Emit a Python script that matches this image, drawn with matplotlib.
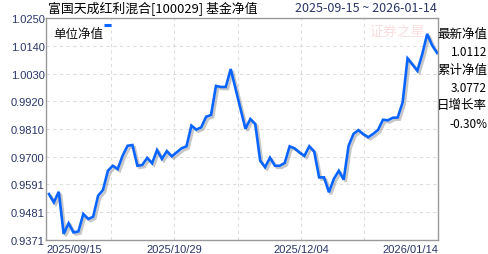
import numpy as np
import matplotlib
matplotlib.use('Agg')
import matplotlib.pyplot as plt
import matplotlib.patheffects as pe

plt.rcParams['font.family'] = ['Noto Sans CJK SC', 'DejaVu Sans']

# unit NAV, one value per trading day 2025-09-15 .. 2026-01-14
nav = [0.9553, 0.9520, 0.9562, 0.9395, 0.9437, 0.9401, 0.9405, 0.9474, 0.9454, 0.9463,
       0.9546, 0.9569, 0.9645, 0.9665, 0.9652, 0.9705, 0.9744, 0.9747, 0.9665, 0.9668,
       0.9696, 0.9675, 0.9727, 0.9692, 0.9723, 0.9702, 0.9718, 0.9734, 0.9742, 0.9824,
       0.9808, 0.9817, 0.9859, 0.9866, 0.9981, 0.9977, 0.9977, 1.0048, 0.9969, 0.9890,
       0.9811, 0.9850, 0.9830, 0.9685, 0.9659, 0.9697, 0.9665, 0.9665, 0.9676, 0.9742,
       0.9734, 0.9718, 0.9704, 0.9742, 0.9721, 0.9619, 0.9619, 0.9560, 0.9613, 0.9645,
       0.9610, 0.9744, 0.9791, 0.9806, 0.9790, 0.9778, 0.9791, 0.9807, 0.9847, 0.9845,
       0.9855, 0.9856, 0.9916, 1.0090, 1.0066, 1.0041, 1.0107, 1.0187, 1.0142, 1.0112]

y_ticks = [0.9371, 0.9481, 0.9591, 0.9700, 0.9810, 0.9920, 1.0030, 1.0140, 1.0250]
x_labels = ['2025/09/15', '2025/10/29', '2025/12/04', '2026/01/14']

title = '富国天成红利混合[100029] 基金净值'
date_range = '2025-09-15 ~ 2026-01-14'
side_info = [('最新净值', '1.0112'), ('累计净值', '3.0772'), ('日增长率', '-0.30%')]

navy = '#2a3566'
blue = '#0a64ff'

fig = plt.figure(figsize=(4.88, 2.55), dpi=100)
ax = fig.add_axes([46 / 488, 14 / 255, 392 / 488, 222 / 255])

x = np.arange(len(nav))
ax.plot(x, nav, color=blue, lw=1.9, solid_joinstyle='miter',
        path_effects=[pe.SimpleLineShadow(offset=(1.5, -1.5), shadow_color='#999999', alpha=0.55),
                      pe.Normal()])

xmin, xmax = -0.6, 79.2
ax.set_xlim(xmin, xmax)
ax.set_ylim(y_ticks[0], y_ticks[-1])

ax.set_yticks(y_ticks)
ax.set_yticklabels(['%.4f' % v for v in y_ticks], fontsize=8, color=navy,
                   family=['Liberation Sans', 'DejaVu Sans'])

grid_x = [12.6, 25.5, 38.4, 51.3, 64.2]
ax.set_xticks([xmin, grid_x[1], grid_x[3], xmax])
ax.set_xticklabels(x_labels, fontsize=8, color=navy, family=['Liberation Sans', 'DejaVu Sans'])
tl = ax.get_xticklabels()
tl[0].set_ha('left')
tl[-1].set_ha('right')
ax.tick_params(axis='both', length=0)
ax.tick_params(axis='x', pad=3)
ax.tick_params(axis='y', pad=1)

for gx in grid_x:
    ax.axvline(gx, color='#dddddd', lw=0.8, ls=(0, (3, 3)), zorder=0)
for gy in y_ticks[1:]:
    ax.axhline(gy, color='#dddddd', lw=0.8, ls=(0, (3, 3)), zorder=0)

for s in ax.spines.values():
    s.set_color('#999999')
    s.set_linewidth(1)

# legend in the top-left corner
ax.text(0.018, 0.96, '单位净值', transform=ax.transAxes, fontsize=9, color='#111111',
        ha='left', va='top')
ax.plot([0.148, 0.166], [0.968, 0.968], transform=ax.transAxes, color=blue, lw=2.2,
        solid_capstyle='butt')

# faint watermark
ax.text(0.825, 0.94, '证券之星', transform=ax.transAxes, fontsize=10, color='#f2b8b8',
        alpha=0.45, ha='left', va='center', style='italic', zorder=0)

fig.text(48 / 488, 1 - 9 / 255, title, fontsize=9.3, color='black', ha='left', va='center')
fig.text(437 / 488, 1 - 9 / 255, date_range, fontsize=9, color=navy, ha='right', va='center')

yy = 34
for name, val in side_info:
    fig.text(487 / 488, 1 - yy / 255, name, fontsize=9, ha='right', va='center', color='black')
    fig.text(487 / 488, 1 - (yy + 18.5) / 255, val, fontsize=8.5, ha='right', va='center',
             color='black')
    yy += 36

fig.savefig('out.png', dpi=100)
